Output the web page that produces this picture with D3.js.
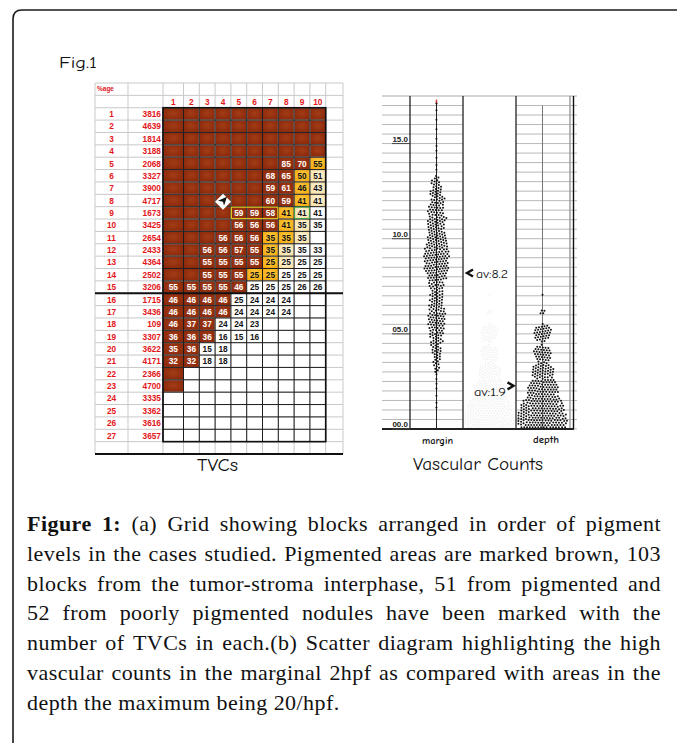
<!DOCTYPE html>
<html><head><meta charset="utf-8">
<script src="https://cdn.jsdelivr.net/npm/d3@7"></script>
<style>body{margin:0;background:#fff}svg{display:block}</style>
</head><body>
<svg id="c" width="677" height="743"></svg>
<script>
// ---------------- DATA ----------------
const _ = null;
const rowLabels = ["1","2","3","4","5","6","7","8","9","10","11","12","13","14","15","16","17","18","19","20","21","22","23","24","25","26","27"];
const sampleCounts = [3816,4639,1814,3188,2068,3327,3900,4717,1673,3425,2654,2433,4364,2502,3206,1715,3436,109,3307,3622,4171,2366,4700,3335,3362,3616,3657];
const colLabels = ["1","2","3","4","5","6","7","8","9","10"];
const tvcGrid = [
  [_,_,_,_,_,_,_,_,_,_],
  [_,_,_,_,_,_,_,_,_,_],
  [_,_,_,_,_,_,_,_,_,_],
  [_,_,_,_,_,_,_,_,_,_],
  [_,_,_,_,_,_,_,85,70,55],
  [_,_,_,_,_,_,68,65,50,51],
  [_,_,_,_,_,_,59,61,46,43],
  [_,_,_,_,_,_,60,59,41,41],
  [_,_,_,_,59,59,58,41,41,41],
  [_,_,_,_,56,56,56,41,35,35],
  [_,_,_,56,56,56,35,35,35,_],
  [_,_,56,56,57,55,35,35,35,33],
  [_,_,55,55,55,55,25,25,25,25],
  [_,_,55,55,55,25,25,25,25,25],
  [55,55,55,55,46,25,25,25,26,26],
  [46,46,46,46,25,24,24,24,_,_],
  [46,46,46,46,24,24,24,24,_,_],
  [46,37,37,24,24,23,_,_,_,_],
  [36,36,36,16,15,16,_,_,_,_],
  [35,36,15,18,_,_,_,_,_,_],
  [32,32,18,18,_,_,_,_,_,_],
  [_,_,_,_,_,_,_,_,_,_],
  [_,_,_,_,_,_,_,_,_,_],
  [_,_,_,_,_,_,_,_,_,_],
  [_,_,_,_,_,_,_,_,_,_],
  [_,_,_,_,_,_,_,_,_,_],
  [_,_,_,_,_,_,_,_,_,_]
];
// b = pigmented (brown), o = orange, c = cream, w = white
const pigmentGrid = [
  "bbbbbbbbbb","bbbbbbbbbb","bbbbbbbbbb","bbbbbbbbbb",
  "bbbbbbbbbo","bbbbbbbboc","bbbbbbbboc","bbbbbbbboc",
  "bbbbbbbocw","bbbbbbbocw","bbbbbboocw","bbbbbbocww",
  "bbbbbbocww","bbbbboowww","bbbbbwwwww","bbbbwwwwww",
  "bbbbwwwwww","bbbwwwwwww","bbbwwwwwww","bbwwwwwwww",
  "bbwwwwwwww","bwwwwwwwww","bwwwwwwwww","wwwwwwwwww",
  "wwwwwwwwww","wwwwwwwwww","wwwwwwwwww"
];
// vascular counts: observations per value range (start, span, count)
const marginStart  = [1.0,1.5,2.0,2.5,3.0,3.5,4.0,4.5,5.0,5.5,6.0,6.5,7.0,7.5,8.0,8.5,9.0,9.5,10.0,10.5,11.0,11.5,12.0,12.5,13.0,13.5,14.0,14.5,15.0,15.5,16.0,16.5,17.0];
const marginSpan   = [0.5,0.5,0.5,0.5,0.5,0.5,0.5,0.5,0.5,0.5,0.5,0.5,0.5,0.5,0.5,0.5,0.5,0.5,0.5, 0.5, 0.5, 0.5, 0.5, 0.5, 0.3, 0.5, 0.5, 0.5, 0.5, 0.5, 0.5, 0.5, 0.2];
const marginCounts = [2,  1,  2,  2,  8,  10, 14, 15, 22, 24, 23, 17, 17, 19, 32, 35, 35, 30, 24,  23,  23,  20,  17,  14,  5,   2,   1,   2,   1,   1,   1,   1,   1];
const depthStart   = [0.0,0.5,1.0,1.55,2.55,3.55,4.6,6.0,7.0];
const depthSpan    = [0.5,0.5,0.5,0.85,0.75,0.75,0.9,0.3,0.1];
const depthCounts  = [70, 70, 62, 75,  45,  38,  38, 4,  1];
const yTickValues = [0,5,10,15];
const yTickLabels = ["00.0","05.0","10.0","15.0"];
const groupNames = ["margin","mid","depth"];
const averages = {margin: 8.2, depth: 1.9};
const captionLines = [
  "Figure 1: (a) Grid showing blocks arranged in order of pigment",
  "levels in the cases studied. Pigmented areas are marked brown, 103",
  "blocks from the tumor-stroma interphase, 51 from pigmented and",
  "52 from poorly pigmented nodules have been marked with the",
  "number of TVCs in each.(b) Scatter diagram highlighting the high",
  "vascular counts in the marginal 2hpf as compared with areas in the",
  "depth the maximum being 20/hpf."
];

// ---------------- DRAW ----------------
const svg = d3.select("#c");
const HAND = "'Comic Sans MS','Comic Neue','DejaVu Sans',sans-serif";
const SANS = "'Liberation Sans',Arial,sans-serif";
const SERIF = "'Liberation Serif','Times New Roman',serif";
const RED = "#e3161b";

// frame
svg.append("path").attr("d","M13,750 L13,19 Q13,10 22,10 L690,10")
  .attr("fill","none").attr("stroke","#1a1a1a").attr("stroke-width",1.6);

svg.append("text").attr("x",59).attr("y",68).attr("font-family",HAND).attr("font-size",16)
  .attr("textLength",38).attr("lengthAdjust","spacingAndGlyphs").attr("fill","#111").text("Fig.1");

// gradients
const defs = svg.append("defs");
function radial(id, c0, c1){
  const g = defs.append("radialGradient").attr("id",id).attr("cx","50%").attr("cy","45%").attr("r","70%");
  g.append("stop").attr("offset","0%").attr("stop-color",c0);
  g.append("stop").attr("offset","100%").attr("stop-color",c1);
}
radial("gB","#a33c16","#852409");
radial("gO","#ffd24d","#f2a000");
radial("gC","#fffbea","#f7d994");
const fillFor = {b:"url(#gB)", o:"url(#gO)", c:"url(#gC)", w:"#ffffff"};

// grid scales
const gx = d3.scaleLinear().domain([0,1,10,11]).range([163,183.5,325.7,343]);
const gy = d3.scaleLinear().domain([-2,28]).range([83,454]);
const tableL = 95, colA = 128, tableR = gx(11);

const grid = svg.append("g");
const cells = [];
pigmentGrid.forEach((s,r)=>{ for(let c=0;c<10;c++) cells.push({r,c,k:s[c],v:tvcGrid[r][c]}); });
grid.selectAll("rect.cell").data(cells).join("rect").attr("class","cell")
  .attr("x",d=>gx(d.c)).attr("y",d=>gy(d.r)).attr("width",d=>gx(d.c+1)-gx(d.c)).attr("height",d=>gy(d.r+1)-gy(d.r))
  .attr("fill",d=>fillFor[d.k]);

// light lines over full table
const light = grid.append("g").attr("stroke","#c9c9c9").attr("stroke-width",1);
d3.range(-2,29).forEach(k=>light.append("line").attr("x1",tableL).attr("x2",tableR).attr("y1",gy(k)).attr("y2",gy(k)));
[tableL,colA].concat(d3.range(0,12).map(gx)).forEach(x=>light.append("line").attr("x1",x).attr("x2",x).attr("y1",gy(-2)).attr("y2",gy(28)));

// dark lines inside data area
const dark = grid.append("g").attr("stroke","#1e1e1e").attr("stroke-width",1);
d3.range(0,28).forEach(k=>dark.append("line").attr("x1",gx(0)).attr("x2",gx(10)).attr("y1",gy(k)).attr("y2",gy(k)));
d3.range(0,11).forEach(c=>dark.append("line").attr("x1",gx(c)).attr("x2",gx(c)).attr("y1",gy(0)).attr("y2",gy(27)));
grid.append("rect").attr("x",gx(0)).attr("y",gy(0)).attr("width",gx(10)-gx(0)).attr("height",gy(27)-gy(0))
  .attr("fill","none").attr("stroke","#111").attr("stroke-width",1.6);
// thick separators
grid.append("line").attr("x1",tableL).attr("x2",tableR).attr("y1",gy(15)).attr("y2",gy(15)).attr("stroke","#111").attr("stroke-width",2.2);
grid.append("line").attr("x1",tableL).attr("x2",tableR).attr("y1",gy(28)).attr("y2",gy(28)).attr("stroke","#111").attr("stroke-width",2.2);
// highlight outlines
grid.append("rect").attr("x",gx(4)+0.5).attr("y",gy(8)+0.5).attr("width",gx(7)-gx(4)-1).attr("height",gy(9)-gy(8)-1)
  .attr("fill","none").attr("stroke","#e2c01a").attr("stroke-width",1.2);
grid.append("rect").attr("x",gx(8)+0.5).attr("y",gy(8)+0.5).attr("width",gx(9)-gx(8)-1).attr("height",gy(9)-gy(8)-1)
  .attr("fill","none").attr("stroke","#3aa346").attr("stroke-width",1);

// cell numbers
grid.selectAll("text.v").data(cells.filter(d=>d.v!=null)).join("text").attr("class","v")
  .attr("x",d=>(gx(d.c)+gx(d.c+1))/2).attr("y",d=>gy(d.r)+9.3).attr("text-anchor","middle")
  .attr("font-family",SANS).attr("font-weight","bold").attr("font-size",8.3)
  .attr("fill",d=>d.k==="b"?"#ffffff":"#111").text(d=>d.v);

// headers
grid.append("text").attr("x",97).attr("y",gy(-2)+8).attr("font-family",SANS).attr("font-weight","bold")
  .attr("font-size",6.5).attr("fill",RED).text("%age");
grid.selectAll("text.ch").data(colLabels).join("text").attr("class","ch")
  .attr("x",(d,i)=>(gx(i)+gx(i+1))/2).attr("y",gy(-1)+9.3).attr("text-anchor","middle")
  .attr("font-family",SANS).attr("font-weight","bold").attr("font-size",8.3).attr("fill",RED).text(d=>d);
grid.selectAll("text.rl").data(rowLabels).join("text").attr("class","rl")
  .attr("x",111.5).attr("y",(d,i)=>gy(i)+9.3).attr("text-anchor","middle")
  .attr("font-family",SANS).attr("font-weight","bold").attr("font-size",8.3).attr("fill",RED).text(d=>d);
grid.selectAll("text.sc").data(sampleCounts).join("text").attr("class","sc")
  .attr("x",161).attr("y",(d,i)=>gy(i)+9.3).attr("text-anchor","end")
  .attr("font-family",SANS).attr("font-weight","bold").attr("font-size",8.3).attr("fill",RED).text(d=>d);

// pointer icon in row 8
const ic = grid.append("g").attr("transform",`translate(${gx(3.5)},${gy(7.6)})`);
ic.append("path").attr("d","M0,-8 L8,0 L0,8 L-8,0 Z").attr("fill","#fff");
ic.append("path").attr("d","M-5,-1 L4,-5 L1,4 L0,0 Z").attr("fill","#111");

svg.append("text").attr("x",197).attr("y",471).attr("font-family",HAND).attr("font-size",18)
  .attr("textLength",41).attr("lengthAdjust","spacingAndGlyphs").attr("fill","#111").text("TVCs");

// ---------------- SCATTER ----------------
const sy = d3.scaleLinear().domain([0,17.5]).range([429,96]);
const sx = d3.scaleBand().domain(groupNames).range([410,569]);
const cxOf = n => sx(n) + sx.bandwidth()/2;
const pL = 382, pR = 577;
const sc = svg.append("g");

// horizontal gridlines (not in middle column)
const hg = sc.append("g").attr("stroke","#b8b8b8").attr("stroke-width",1);
d3.range(0,17.5,0.5).forEach(v=>{
  hg.append("line").attr("x1",pL).attr("x2",sx("mid")).attr("y1",sy(v)).attr("y2",sy(v));
  hg.append("line").attr("x1",sx("depth")).attr("x2",pR).attr("y1",sy(v)).attr("y2",sy(v));
});
sc.append("line").attr("x1",pL).attr("x2",pR).attr("y1",sy(17.5)).attr("y2",sy(17.5)).attr("stroke","#aaa");

// swarm layout: ranges from index `roundFrom` on are packed as rounded clusters
function swarm(starts, spans, counts, cx, roundFrom){
  const nodes = [];
  starts.forEach((b,i)=>{
    const n = counts[i], round = i>=roundFrom;
    for(let j=0;j<n;j++){
      const ty = round ? sy(b + spans[i]/2) : sy(b + spans[i]*(j+0.5)/n);
      nodes.push({v:b, ty, round, x: cx + (((j*7)%11)-5)*1.1, y: sy(b + spans[i]*(j+0.5)/n)});
    }
  });
  const sim = d3.forceSimulation(nodes)
    .force("x", d3.forceX(cx).strength(d=>d.round?0.09:0.07))
    .force("y", d3.forceY(d=>d.ty).strength(d=>d.round?0.09:0.45))
    .force("c", d3.forceCollide(1.4).iterations(2)).stop();
  for(let k=0;k<300;k++){ sim.tick(); nodes.forEach(d=>{ if(d.y>427.3) d.y=427.3; }); }
  return nodes;
}
const mNodes = swarm(marginStart, marginSpan, marginCounts, cxOf("margin"), 99);
const dNodes = swarm(depthStart, depthSpan, depthCounts, cxOf("depth"), 3);

// faint ghost copy in the middle column
const shift = cxOf("mid") - cxOf("depth");
sc.append("g").selectAll("circle").data(dNodes).join("circle")
  .attr("cx",d=>d.x+shift).attr("cy",d=>d.y).attr("r",1.0).attr("fill","#000").attr("opacity",0.05);

// center lines
sc.append("line").attr("x1",cxOf("margin")).attr("x2",cxOf("margin")).attr("y1",sy(17.3)).attr("y2",sy(0)).attr("stroke","#222").attr("stroke-width",1);
sc.append("line").attr("x1",cxOf("margin")).attr("x2",cxOf("margin")).attr("y1",sy(17.3)).attr("y2",sy(17.1)).attr("stroke","#d33").attr("stroke-width",1.5);
sc.append("line").attr("x1",cxOf("depth")).attr("x2",cxOf("depth")).attr("y1",sy(17)).attr("y2",sy(0)).attr("stroke","#777").attr("stroke-width",1);

sc.append("g").selectAll("circle").data(mNodes.concat(dNodes)).join("circle")
  .attr("cx",d=>d.x).attr("cy",d=>d.y).attr("r",1.0).attr("fill","#111");

// vertical separators
[sx("margin"), sx("mid"), sx("depth")].forEach(x=>sc.append("line").attr("x1",x).attr("x2",x).attr("y1",sy(17.5)).attr("y2",sy(0)).attr("stroke","#222").attr("stroke-width",1.3));
sc.append("line").attr("x1",570).attr("x2",570).attr("y1",sy(17.5)).attr("y2",sy(0)).attr("stroke","#999").attr("stroke-width",1.4);
sc.append("line").attr("x1",573.5).attr("x2",573.5).attr("y1",sy(17.5)).attr("y2",sy(0)).attr("stroke","#111").attr("stroke-width",1.4);
sc.append("line").attr("x1",pL).attr("x2",pR-3).attr("y1",sy(0)).attr("y2",sy(0)).attr("stroke","#222").attr("stroke-width",2);

// y tick labels
yTickValues.forEach((v,i)=>{
  sc.append("line").attr("x1",392).attr("x2",sx("margin")).attr("y1",sy(v)).attr("y2",sy(v)).attr("stroke","#444").attr("stroke-width",1);
  sc.append("text").attr("x",408).attr("y",sy(v)-1.8).attr("text-anchor","end").attr("font-family",SANS)
    .attr("font-weight","bold").attr("font-size",8).attr("fill","#222").text(yTickLabels[i]);
});

// averages
sc.append("path").attr("d",`M473,${sy(averages.margin)-3.5} L467,${sy(averages.margin)} L473,${sy(averages.margin)+3.5}`)
  .attr("fill","none").attr("stroke","#111").attr("stroke-width",2.4);
sc.append("text").attr("x",476).attr("y",sy(averages.margin)+5.5).attr("font-family",HAND).attr("font-size",11.5)
  .attr("textLength",32).attr("lengthAdjust","spacingAndGlyphs").attr("fill","#111").text("av:"+averages.margin);
sc.append("text").attr("x",474).attr("y",sy(averages.depth)+3.5).attr("font-family",HAND).attr("font-size",11.5)
  .attr("textLength",32).attr("lengthAdjust","spacingAndGlyphs").attr("fill","#111").text("av:"+averages.depth);
sc.append("path").attr("d",`M507.5,${sy(averages.depth)-10.5} L513.5,${sy(averages.depth)-7} L507.5,${sy(averages.depth)-3.5}`)
  .attr("fill","none").attr("stroke","#111").attr("stroke-width",2.4);

// group labels
sc.append("text").attr("x",422).attr("y",444).attr("font-family",HAND).attr("font-weight","bold").attr("font-size",9.5)
  .attr("textLength",31).attr("lengthAdjust","spacingAndGlyphs").attr("fill","#111").text("margin");
sc.append("text").attr("x",533).attr("y",443).attr("font-family",HAND).attr("font-weight","bold").attr("font-size",9.5)
  .attr("textLength",26).attr("lengthAdjust","spacingAndGlyphs").attr("fill","#111").text("depth");
svg.append("text").attr("x",413).attr("y",470).attr("font-family",HAND).attr("font-size",17)
  .attr("textLength",130).attr("lengthAdjust","spacingAndGlyphs").attr("fill","#111").text("Vascular Counts");

// ---------------- CAPTION ----------------
const capL = 27, capR = 661, capY0 = 531, capDy = 29.8, fs = 22, ls = 0.45;
const cap = svg.append("g").attr("fill","#111");
captionLines.forEach((l,li)=>{
  const ws = l.split(" ").map((w,wi)=>({w, bold: li===0 && wi<2}));
  const nodes = ws.map(d=>cap.append("text").attr("y",capY0+li*capDy).attr("font-family",SERIF).attr("font-size",fs)
      .attr("letter-spacing",ls).attr("font-weight",d.bold?"bold":"normal").text(d.w));
  ws.forEach((d,i)=>d.width = nodes[i].node().getComputedTextLength());
  const sum = d3.sum(ws,d=>d.width);
  let gap = li<6 ? (capR-capL-sum)/(ws.length-1) : fs*0.27;
  let x = capL;
  ws.forEach((d,i)=>{ nodes[i].attr("x",x); x += d.width + gap; });
});
</script>
</body></html>
